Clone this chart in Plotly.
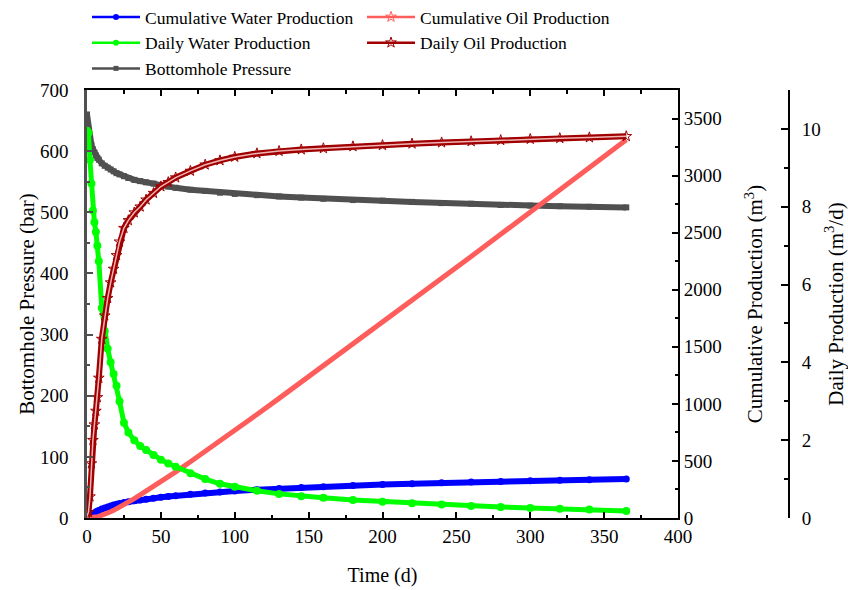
import plotly.graph_objects as go

# ---- data ----
time_d = [0, 1, 2, 3, 4, 5, 6, 7, 8, 10, 12, 14, 16, 18, 20, 22, 25, 28, 32, 36, 40, 45, 50, 55, 60,
          70, 80, 90, 100, 115, 130, 145, 160, 180, 200, 220, 240, 260, 280, 300, 320, 340, 365]
bhp_bar = [660, 635, 620, 610, 603, 598, 593, 589, 586, 580, 576, 573, 570, 567, 564, 562, 559, 556,
           553, 551, 549, 547, 544, 542, 540, 537, 535, 532, 530, 528, 526, 524, 522, 520, 519, 517,
           515, 514, 512, 511, 510, 509, 508]
daily_water = [9.95, 9.9, 9.2, 8.6, 7.9, 7.6, 7.35, 7.0, 6.6, 5.4, 4.8, 4.35, 4.0, 3.7, 3.4, 3.0, 2.45,
               2.2, 2.0, 1.85, 1.75, 1.62, 1.5, 1.4, 1.32, 1.15, 1.0, 0.88, 0.8, 0.7, 0.62, 0.56, 0.52,
               0.46, 0.42, 0.38, 0.35, 0.31, 0.28, 0.26, 0.24, 0.22, 0.18]
daily_oil = [0.05, 0.15, 0.55, 1.4, 2.0, 2.4, 2.75, 3.1, 3.6, 4.6, 5.2, 5.65, 6.05, 6.4, 6.75, 7.1, 7.45,
             7.65, 7.85, 8.0, 8.18, 8.35, 8.52, 8.63, 8.75, 8.92, 9.08, 9.19, 9.28, 9.37, 9.43, 9.47,
             9.5, 9.55, 9.58, 9.62, 9.65, 9.68, 9.71, 9.74, 9.76, 9.78, 9.81]
cum_oil = [0, 0.1, 0.5, 1.5, 3.2, 5.4, 8, 11, 14, 22, 32, 43, 55, 67, 80, 94, 116, 139, 170, 202, 234,
           276, 318, 361, 404, 493, 583, 675, 767, 907, 1048, 1190, 1332, 1523, 1714, 1906, 2099, 2292,
           2486, 2681, 2876, 3071, 3315]
cum_water = [0, 9.9, 19.4, 28.3, 36.5, 44.3, 51.8, 59, 65.8, 77.8, 88, 97.2, 105.5, 113.2, 120.3, 126.7,
             134.9, 141.9, 150.3, 158, 165.2, 173.6, 181.4, 188.7, 195.5, 207.8, 218.5, 227.9, 236.3,
             247.5, 257.4, 266.3, 274.4, 284.2, 293, 301, 308.3, 314.9, 320.8, 326.2, 331.2, 335.8, 340.8]

names = ["Cumulative Water Production", "Cumulative Oil Production",
         "Daily Water Production", "Daily Oil Production", "Bottomhole Pressure"]

C_BLUE = "#0000ff"
C_LRED = "#ff5c5c"
C_GREEN = "#00ff00"
C_DRED = "#a00000"
C_GRAY = "#505050"

FONT = "Liberation Serif, Times New Roman, serif"

fig = go.Figure()

# BHP on left axis
fig.add_trace(go.Scatter(x=time_d, y=bhp_bar, mode="lines+markers", yaxis="y", showlegend=False,
                         line=dict(color=C_GRAY, width=6),
                         marker=dict(symbol="square", size=6, color=C_GRAY)))
# Cumulative on y2
fig.add_trace(go.Scatter(x=time_d, y=cum_water, mode="lines+markers", yaxis="y2", showlegend=False,
                         line=dict(color=C_BLUE, width=6),
                         marker=dict(symbol="circle", size=7, color=C_BLUE)))
fig.add_trace(go.Scatter(x=time_d, y=cum_oil, mode="lines", yaxis="y2", showlegend=False,
                         line=dict(color=C_LRED, width=5)))
# Daily on y3
fig.add_trace(go.Scatter(x=time_d, y=daily_water, mode="lines+markers", yaxis="y3", showlegend=False,
                         line=dict(color=C_GREEN, width=5),
                         marker=dict(symbol="circle", size=8, color=C_GREEN)))
fig.add_trace(go.Scatter(x=time_d, y=daily_oil, mode="lines+markers", yaxis="y3", showlegend=False,
                         line=dict(color=C_DRED, width=6),
                         marker=dict(symbol="star-open", size=8, color=C_DRED, line=dict(width=1))))
fig.add_trace(go.Scatter(x=time_d, y=daily_oil, mode="lines", yaxis="y3", showlegend=False,
                         line=dict(color="#f0b4b4", width=1.5), hoverinfo="skip"))

# legend entries
leg_styles = [
    (C_BLUE, "circle", 6),
    (C_LRED, "star-open", 8),
    (C_GREEN, "circle", 6),
    (C_DRED, "star-open", 8),
    (C_GRAY, "square", 5),
]
for nm, (col, sym, sz) in zip(names, leg_styles):
    fig.add_trace(go.Scatter(x=[None], y=[None], mode="lines+markers", name=nm,
                             line=dict(color=col, width=2.5),
                             marker=dict(symbol=sym, size=sz, color=col)))

W, H = 848, 590
L, R, T, B = 87, 0, 90, 72
pw = W - L - R
x_end = (678 - L) / pw
y3_pos = (789 - L) / pw

tickfont = dict(family=FONT, size=19, color="black")
titlefont = dict(family=FONT, size=21, color="black")

fig.update_layout(
    width=W, height=H,
    margin=dict(l=L, r=R, t=T, b=B, autoexpand=False),
    paper_bgcolor="white", plot_bgcolor="white",
    font=dict(family=FONT, color="black"),
    template="none",
    xaxis=dict(domain=[0, x_end], range=[0, 400], dtick=50, tick0=0,
               showline=True, linecolor="black", linewidth=2, mirror="ticks",
               ticks="inside", ticklen=6, tickwidth=2, tickcolor="black",
               minor=dict(ticks="inside", ticklen=3.5, tickwidth=2, dtick=25, tickcolor="black"),
               showgrid=False, zeroline=False, tickfont=tickfont,
               title=dict(text="Time (d)", font=dict(family=FONT, size=20), standoff=22)),
    yaxis=dict(range=[0, 700], dtick=100, showline=True, linecolor=C_GRAY, linewidth=2.5,
               ticks="inside", ticklen=6, tickwidth=2, tickcolor=C_GRAY,
               minor=dict(ticks="inside", ticklen=3.5, tickwidth=2, dtick=50, tickcolor=C_GRAY),
               showgrid=False, zeroline=False, tickfont=tickfont, ticklabelstandoff=12,
               title=dict(text="Bottomhole Pressure (bar)", font=titlefont, standoff=0)),
    yaxis2=dict(range=[0, 3750], dtick=500, overlaying="y", side="right", anchor="x",
                showline=True, linecolor="black", linewidth=2,
                ticks="inside", ticklen=6, tickwidth=2, tickcolor="black",
                minor=dict(ticks="inside", ticklen=3.5, tickwidth=2, dtick=250, tickcolor="black"),
                showgrid=False, zeroline=False, tickfont=tickfont,
                title=dict(text="Cumulative Production (m<sup>3</sup>)", font=titlefont, standoff=27)),
    yaxis3=dict(range=[0, 11], dtick=2, overlaying="y", side="right", anchor="free", position=y3_pos,
                showline=True, linecolor="black", linewidth=2,
                ticks="inside", ticklen=7, tickwidth=2, tickcolor="black",
                minor=dict(ticks="inside", ticklen=4, tickwidth=2, dtick=1, tickcolor="black"),
                showgrid=False, zeroline=False, tickfont=tickfont, ticklabelstandoff=8,
                title=dict(text="Daily Production (m<sup>3</sup>/d)", font=titlefont, standoff=9)),
    legend=dict(orientation="h", x=(87 - L) / pw, xanchor="left", y=(518 + 1) / 428, yanchor="top",
                entrywidth=212, entrywidthmode="pixels", itemwidth=48,
                font=dict(family=FONT, size=17.5, color="black"),
                bgcolor="rgba(0,0,0,0)", traceorder="normal"),
)

fig.write_html("out.html")
